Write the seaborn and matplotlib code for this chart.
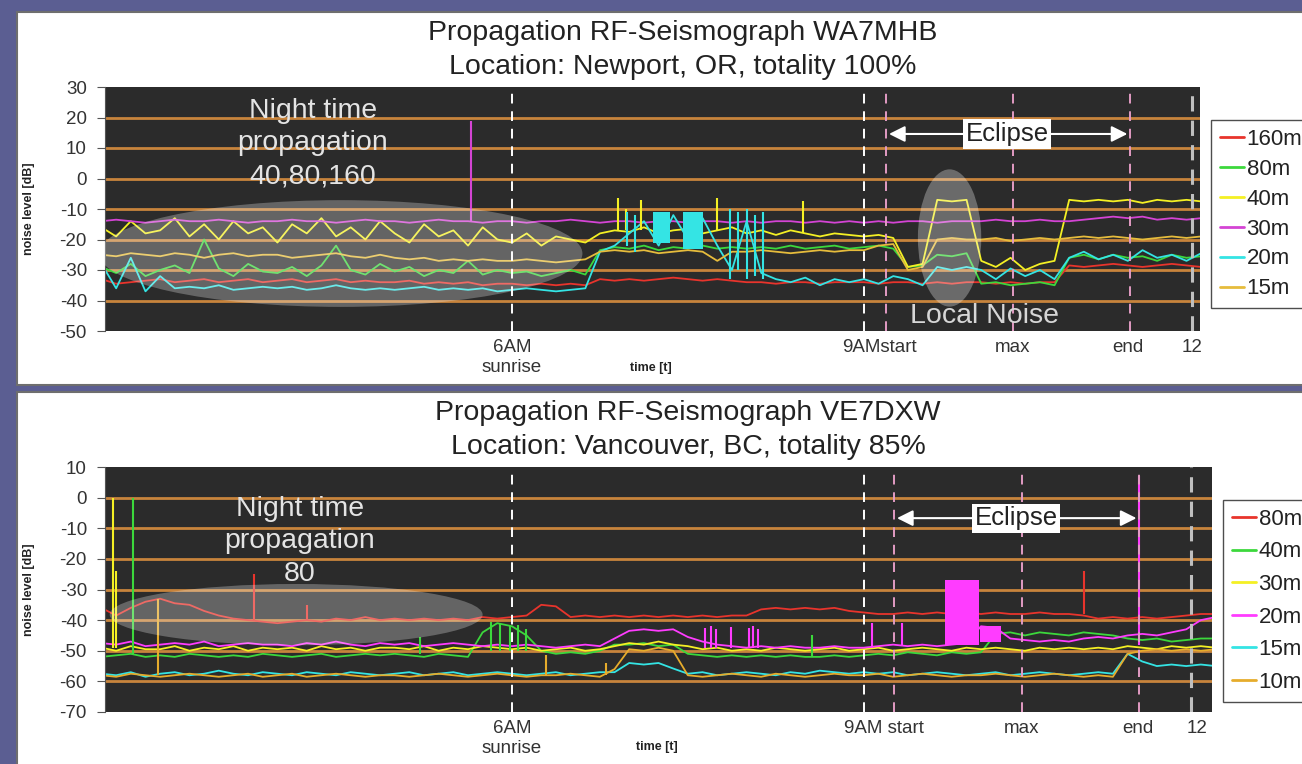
import numpy as np
import pandas as pd
import seaborn as sns
import matplotlib.pyplot as plt
from matplotlib.patches import Ellipse, Rectangle
from matplotlib.lines import Line2D

sns.set_style("white")
plt.rcParams['font.family'] = ['Liberation Sans', 'DejaVu Sans']
plt.rcParams['axes.unicode_minus'] = False

# sample times in hours (one reading every 7.5 min)
t = np.arange(2.5, 12.001, 0.125)

# ---------------- top station WA7MHB (dB) ----------------
top_bands = ['160m', '80m', '40m', '30m', '20m', '15m']
top_colors = ['#e8342c', '#3cd83c', '#f4f024', '#d444d4', '#34e4e4', '#e6bc3c']

top_160m = [-33, -34.5, -34, -33.5,
            -33, -34, -33.5, -33, -34, -33.5, -33, -34,
            -33.5, -33, -34, -33.5, -33, -34, -33.5, -34,
            -34, -33.5, -34.5, -34, -34.5, -34, -35, -34.5,
            -34.5, -35, -34.5, -35, -34.5, -35, -33, -33.5,
            -33, -33.5, -33, -32.5, -33, -33.5, -33, -33.5,
            -34, -34, -34.5, -34, -34, -34.5, -34, -34,
            -34, -34.5, -34, -34, -34.5, -34, -34.5, -34,
            -34, -34.5, -34, -34.5, -34, -34, -28.5, -29,
            -28.5, -28, -28.5, -29, -28.5, -28, -28.5, -29,
            -28.5]
top_80m = [-29, -31, -28, -32,
           -30, -28.5, -31, -20, -29.5, -32, -28, -30.5,
           -31, -29, -32, -28.5, -22, -30, -31.5, -28,
           -30.5, -29, -32, -30, -31, -27, -31.5, -30,
           -31, -30.5, -32, -31, -30, -31.5, -23.5, -22.5,
           -23, -22, -23.5, -22.5, -23, -22, -23, -22.5,
           -23, -22.5, -23, -22, -23, -22.5, -22, -23,
           -22.5, -22, -23, -29, -28.5, -25, -25.5, -24.5,
           -34.5, -34, -35, -34.5, -34, -35, -26, -25,
           -26.5, -25, -26, -25.5, -27, -25, -26, -25.5,
           -25]
top_40m = [-16, -19, -14, -18,
           -17, -13, -19, -15, -20, -14, -18, -16,
           -21, -15, -18, -13, -19, -16, -20, -14,
           -18, -21, -15, -19, -17, -22, -16, -20,
           -21, -18, -22, -19, -20, -21, -18, -17,
           -17.5, -16, -18, -17, -16.5, -18, -17, -16,
           -18, -17, -18.5, -17, -18, -19, -18, -18.5,
           -19, -18.5, -19.5, -29, -28, -7, -7.5, -7,
           -27, -29, -26, -30, -28, -27, -7, -7.5,
           -7, -7.5, -7, -8, -7, -7.5, -7, -7.5,
           -7]
top_30m = [-14, -13.5, -14, -14.5,
           -14, -13.5, -14, -14, -13.5, -14, -14.5, -14,
           -14, -13.5, -14, -14, -14.5, -14, -13.5, -14,
           -14, -14.5, -14, -13.5, -14, -14, -14.5, -14,
           -14, -14.5, -14, -14, -13.5, -14, -14.5, -14,
           -14, -14.5, -14, -14, -14.5, -14, -14, -14.5,
           -14, -14.5, -14, -14, -14.5, -14, -14.5, -14,
           -14.5, -14, -14.5, -14, -14, -14.5, -14, -14,
           -14, -13.5, -14, -14, -13.5, -14, -14, -13.5,
           -13, -12.5, -13, -12.5, -13.5, -13, -13.5, -13,
           -13]
top_20m = [-28, -36, -26, -37,
           -32, -36, -35.5, -36, -35, -36.5, -36, -35.5,
           -36, -35.5, -36.5, -36, -35, -36, -36.5, -36,
           -36.5, -36, -35.5, -36.5, -36, -36.5, -36, -37,
           -36.5, -36, -36.5, -37, -36.5, -36, -24, -22,
           -18, -14, -22, -12, -20, -13, -22, -30,
           -14, -31, -33, -34, -32.5, -35, -33, -34,
           -33, -34.5, -32, -33, -35, -29, -30, -29,
           -30, -33, -29.5, -32, -30, -33, -26, -24,
           -26.5, -25, -27, -23.5, -26, -25, -27, -24.5,
           -25]
top_15m = [-25, -25.5, -24.5, -25,
           -25.5, -24.5, -25, -26, -25, -24.5, -25.5, -25,
           -25, -26, -25.5, -25, -24.5, -25.5, -26, -25,
           -26, -26.5, -26, -27, -26.5, -27, -26.5, -27,
           -27, -26.5, -27, -27.5, -27, -26.5, -24, -23.5,
           -24, -23.5, -24.5, -24, -23.5, -24, -27, -24,
           -24, -23.5, -24, -24.5, -24, -23.5, -24, -23.5,
           -23.5, -22, -21.5, -30, -29, -20, -19.5, -20,
           -20, -19.5, -20.5, -20, -19.5, -20, -19.5, -19,
           -19.5, -19, -19.5, -20, -19.5, -19, -19.5, -19,
           -19.5]

# short spikes: band, time, from, to
top_spikes = [('30m', 5.65, -14, 19),
              ('40m', 6.9, -17, -6.5), ('40m', 6.97, -17, -10), ('40m', 7.1, -17, -7),
              ('40m', 7.75, -17, -6.5), ('40m', 8.48, -18, -7.5),
              ('20m', 6.98, -22, -11), ('20m', 7.05, -24, -12), ('20m', 7.86, -33, -10),
              ('20m', 7.93, -30, -11), ('20m', 8.0, -33, -10), ('20m', 8.07, -32, -12),
              ('20m', 8.14, -33, -11)]
# dense bursts: band, start, end, low, high
top_bursts = [('20m', 7.2, 7.35, -21, -11), ('20m', 7.46, 7.63, -23, -11)]

# ---------------- bottom station VE7DXW (dB) ----------------
bot_bands = ['80m', '40m', '30m', '20m', '15m', '10m']
bot_colors = ['#e8342c', '#3cd83c', '#f4f024', '#ff3cff', '#34e4e4', '#e6ac2c']

bot_80m = [-36, -38.5, -36, -34,
           -33, -34.5, -35, -37, -38.5, -39.5, -40, -40.5,
           -41, -40.5, -40, -40.5, -39.5, -40, -39, -40,
           -39.5, -40, -39.5, -40, -39.5, -40, -39, -39.5,
           -39, -38.5, -35, -35.5, -39, -38.5, -39, -38.5,
           -39, -38.5, -39, -38.5, -39, -38.5, -39, -38.5,
           -38.5, -36.5, -36, -36.5, -36, -36.5, -36, -37,
           -37.5, -38, -38, -37.5, -38, -37.5, -38, -37.5,
           -38, -37.5, -38, -38, -37.5, -38, -38, -38.5,
           -39.5, -39, -39.5, -39, -39.5, -39, -38.5, -38,
           -38]
bot_40m = [-52, -51.5, -51, -52,
           -51.5, -52, -51, -51.5, -52, -51.5, -52, -51,
           -51.5, -52, -51.5, -51, -52, -51.5, -51, -51.5,
           -51, -51.5, -52, -51, -51.5, -52, -44, -41,
           -42, -45, -50, -51, -50.5, -51, -50, -48,
           -48, -47.5, -48.5, -48, -51, -51.5, -52, -51.5,
           -52, -51.5, -52, -51.5, -52, -52, -51.5, -52,
           -51.5, -51, -51.5, -50.5, -51, -51.5, -50.5, -51,
           -50.5, -44.5, -44, -45, -44, -44.5, -45, -44,
           -44.5, -45, -46, -46.5, -46, -47, -46.5, -46,
           -46]
bot_30m = [-49, -50, -48.5, -49.5,
           -49.5, -48.5, -50, -49, -49.5, -48.5, -50, -49,
           -49.5, -49, -50, -48.5, -49.5, -49, -50, -49,
           -49, -49.5, -48.5, -50, -49, -49.5, -48.5, -49,
           -49.5, -49, -50, -49.5, -49, -50, -49.5, -48.5,
           -47.5, -48, -47, -48, -48.5, -49.5, -49, -50,
           -49.5, -50, -49, -49.5, -50, -49.5, -49, -50,
           -49.5, -49, -50, -49.5, -49, -49.5, -50, -49,
           -49.5, -49, -49.5, -50, -49, -49.5, -49, -49.5,
           -49, -49.5, -48.5, -49, -49.5, -48.5, -49, -48.5,
           -49]
bot_20m = [-47.5, -48, -47, -48.5,
           -48, -47.5, -48, -47, -48.5, -48, -47.5, -48,
           -48, -48.5, -47.5, -48, -47, -48, -48.5, -47.5,
           -48, -47.5, -48.5, -48, -47.5, -48, -48.5, -48,
           -48.5, -48, -48.5, -49, -48.5, -48, -48.5, -46,
           -43.5, -43, -43.5, -43, -45.5, -47, -48, -48.5,
           -49, -48.5, -49, -48.5, -49, -49, -48.5, -49,
           -49, -48.5, -48, -48.5, -48, -48.5, -48, -47.5,
           -42, -42.5, -46, -46.5, -47, -46.5, -47, -46,
           -45.5, -46, -45, -44.5, -45, -44, -43, -40,
           -39]
bot_15m = [-57.5, -58, -57, -58.5,
           -57.5, -57, -58, -57.5, -56.5, -57.5, -58, -57,
           -57.5, -58, -57, -57.5, -58, -57, -57.5, -58,
           -57.5, -57, -58, -57.5, -57, -58, -57.5, -57,
           -57.5, -58, -57.5, -57, -58, -57.5, -57, -57,
           -54, -54.5, -54, -55.8, -57.5, -57, -58, -57.5,
           -57, -57.5, -58, -57, -57.5, -56.5, -57, -57.5,
           -57, -57.5, -57, -58, -57.5, -57, -57.5, -58,
           -57.5, -57, -58, -57.5, -57, -57.5, -58, -57.5,
           -57, -57.5, -51, -53.5, -55, -54.5, -55, -54.5,
           -55]
bot_10m = [-58, -58.5, -57.5, -58,
           -58.5, -58, -57.5, -58, -58.5, -58, -57.5, -58.5,
           -58, -57.5, -58.5, -58, -57.5, -58, -58.5, -58,
           -58, -58.5, -58, -57.5, -58, -58.5, -58, -57.5,
           -58, -58.5, -58, -58, -57.5, -58, -58.5, -56,
           -49.5, -50, -49, -50, -58, -58.5, -58, -57.5,
           -58, -58.5, -57.5, -58, -58.5, -58, -57.5, -58,
           -58, -57.5, -58.5, -58, -57.5, -58, -58.5, -58,
           -58, -57.5, -58, -58.5, -58, -57.5, -58, -58.5,
           -58, -58.5, -51, -50, -49.5, -50, -49.5, -50,
           -49.5]

bot_spikes = [('30m', 2.6, -49, 0), ('30m', 2.625, -49, -24),
              ('40m', 2.77, -51, 0), ('10m', 2.98, -58, -33),
              ('80m', 3.8, -40, -25), ('80m', 4.25, -40, -35), ('80m', 10.88, -38, -24),
              ('40m', 5.22, -51, -45.6), ('40m', 5.82, -50, -40.5), ('40m', 5.9, -50, -41),
              ('40m', 5.98, -50, -42), ('40m', 6.05, -50, -41.5), ('40m', 6.12, -50, -43),
              ('40m', 8.56, -52, -45),
              ('10m', 6.29, -58, -51.5), ('10m', 6.8, -58, -54),
              ('20m', 7.65, -49, -42.5), ('20m', 7.7, -49, -42), ('20m', 7.74, -49, -43),
              ('20m', 7.87, -49, -42.3), ('20m', 8.02, -49, -42.5), ('20m', 8.06, -49, -42),
              ('20m', 8.1, -49, -43), ('20m', 9.07, -49, -41), ('20m', 9.33, -48, -41),
              ('20m', 11.35, -48, 7)]
bot_bursts = [('20m', 9.69, 9.98, -48, -27), ('20m', 9.99, 10.17, -47, -42)]

W, H = 1302, 764
fig = plt.figure(figsize=(W / 100, H / 100), dpi=100, facecolor='#5b5e92')

# white slide panels (behind the axes)
fig.patches.append(Rectangle((17 / W, 1 - 385 / H), 1.1, 373 / H, transform=fig.transFigure,
                             facecolor='white', edgecolor='#6e6e6e', lw=1.5, zorder=-5))
fig.patches.append(Rectangle((17 / W, -0.02), 1.1, (764 - 392) / H + 0.02, transform=fig.transFigure,
                             facecolor='white', edgecolor='#6e6e6e', lw=1.5, zorder=-5))


def draw_panel(ax, vals, bands, colors, spikes, bursts, ylim, xlim):
    pal = dict(zip(bands, colors))
    df = pd.DataFrame({'t': np.tile(t, len(bands)),
                       'dB': np.concatenate([np.array(v, float) for v in vals]),
                       'band': np.repeat(bands, len(t))})
    ax.set_facecolor('#2b2b2b')
    for y in range(ylim[0] + 10, ylim[1], 10):
        ax.axhline(y, color='#c8843c', lw=2, zorder=1)
    sns.lineplot(data=df, x='t', y='dB', hue='band', hue_order=bands, palette=pal,
                 estimator=None, sort=False, linewidth=1.3, legend=False, ax=ax, zorder=2)
    for b, x, lo, hi in spikes:
        ax.vlines(x, lo, hi, color=pal[b], lw=1.5, zorder=2)
    for b, x0, x1, lo, hi in bursts:
        ax.fill_between([x0, x1], lo, hi, color=pal[b], lw=0, zorder=2)
    ax.set_xlim(*xlim)
    ax.set_ylim(*ylim)
    ax.set_yticks(range(ylim[0], ylim[1] + 1, 10))
    for s in ['top', 'right', 'bottom']:
        ax.spines[s].set_visible(False)
    ax.spines['left'].set_color('#555555')
    ax.tick_params(axis='y', left=True, length=6, color='#555555', labelsize=13.5,
                   labelcolor='#333333', pad=7)
    ax.tick_params(axis='x', length=0, labelsize=13.5, labelcolor='#333333', pad=6)
    return pal


def add_legend(pal, x, y, spacing):
    handles = [Line2D([], [], color=c, lw=2) for c in pal.values()]
    leg = fig.legend(handles, list(pal.keys()), loc='upper left', bbox_to_anchor=(x / W, 1 - y / H),
                     fontsize=16, frameon=True, fancybox=False, edgecolor='#222222',
                     handlelength=1.1, handletextpad=0.1, labelspacing=spacing, borderpad=0.4,
                     borderaxespad=0)
    leg.get_frame().set_linewidth(1.0)
    for txt in leg.get_texts():
        txt.set_color('#222222')


def vlines_dashed(ax, white, grey, pink):
    for x in white:
        ax.axvline(x, color='white', ls=(0, (5, 4)), lw=1.4, zorder=4)
    for x in grey:
        ax.axvline(x, color='#bfbfbf', ls=(0, (5, 3)), lw=2.2, zorder=4)
    for x in pink:
        ax.axvline(x, color='#e39cc4', ls=(0, (5, 4)), lw=1.4, zorder=4)


# ---------------- top panel ----------------
ax1 = fig.add_axes([105 / W, 1 - 331 / H, 1095 / W, 244 / H])
pal1 = draw_panel(ax1, [top_160m, top_80m, top_40m, top_30m, top_20m, top_15m],
                  top_bands, top_colors, top_spikes, top_bursts, (-50, 30), (2.53, 11.865))
ax1.set_xticks([6.0, 9.13, 10.27, 11.25, 11.8])
ax1.set_xticklabels(['6AM\nsunrise', '9AMstart', 'max', 'end', '12'])
vlines_dashed(ax1, [6.0, 9.0], [11.8], [9.19, 10.27, 11.27])
ax1.add_patch(Ellipse((4.54, -24.6), 4.12, 35, facecolor='white', alpha=0.27, lw=0, zorder=3))
ax1.add_patch(Ellipse((9.73, -19.5), 0.54, 45, facecolor='white', alpha=0.3, lw=0, zorder=3))
ax1.text(4.3, 11.5, 'Night time\npropagation\n40,80,160', ha='center', va='center',
         color='#e4e4e4', fontsize=20.5, linespacing=1.33, zorder=5)
ax1.text(10.03, -45.1, 'Local Noise', ha='center', va='center', color='#d6d6d6',
         fontsize=20.5, zorder=5)
ax1.annotate('', xy=(9.19, 14.6), xytext=(11.27, 14.6),
             arrowprops=dict(arrowstyle='<|-|>', color='white', lw=1.5, mutation_scale=24), zorder=5)
ax1.text(10.22, 14.6, 'Eclipse', ha='center', va='center', color='#222222', fontsize=18.5, zorder=6,
         bbox=dict(boxstyle='square,pad=0.1', facecolor='white', edgecolor='none'))
ax1.set_xlabel('time [t]', fontsize=9, fontweight='bold', color='#222222')
ax1.xaxis.set_label_coords((651 - 105) / 1095, -0.127)
ax1.set_ylabel('noise level [dB]', fontsize=9, fontweight='bold', color='#222222')
ax1.yaxis.set_label_coords(-0.064, 0.5)
add_legend(pal1, 1211, 120, 0.4)
fig.text(683 / W, 1 - 33 / H, 'Propagation RF-Seismograph WA7MHB', ha='center', va='center',
         fontsize=20.5, color='#222222')
fig.text(683 / W, 1 - 67 / H, 'Location: Newport, OR, totality 100%', ha='center', va='center',
         fontsize=20.5, color='#222222')

# ---------------- bottom panel ----------------
ax2 = fig.add_axes([105 / W, 1 - 712 / H, 1107 / W, 245 / H])
pal2 = draw_panel(ax2, [bot_80m, bot_40m, bot_30m, bot_20m, bot_15m, bot_10m],
                  bot_bands, bot_colors, bot_spikes, bot_bursts, (-70, 10), (2.53, 11.97))
ax2.set_xticks([6.0, 9.17, 10.35, 11.34, 11.84])
ax2.set_xticklabels(['6AM\nsunrise', '9AM start', 'max', 'end', '12'])
vlines_dashed(ax2, [6.0, 9.0], [11.79], [9.26, 10.35, 11.35])
ax2.add_patch(Ellipse((4.16, -38.2), 3.18, 20, facecolor='white', alpha=0.27, lw=0, zorder=3))
ax2.text(4.19, -14.2, 'Night time\npropagation\n80', ha='center', va='center',
         color='#e4e4e4', fontsize=20.5, linespacing=1.33, zorder=5)
ax2.annotate('', xy=(9.26, -6.7), xytext=(11.35, -6.7),
             arrowprops=dict(arrowstyle='<|-|>', color='white', lw=1.5, mutation_scale=24), zorder=5)
ax2.text(10.3, -6.7, 'Eclipse', ha='center', va='center', color='#222222', fontsize=18.5, zorder=6,
         bbox=dict(boxstyle='square,pad=0.1', facecolor='white', edgecolor='none'))
ax2.set_xlabel('time [t]', fontsize=9, fontweight='bold', color='#222222')
ax2.xaxis.set_label_coords((657 - 105) / 1107, -0.118)
ax2.set_ylabel('noise level [dB]', fontsize=9, fontweight='bold', color='#222222')
ax2.yaxis.set_label_coords(-0.063, 0.5)
add_legend(pal2, 1223, 500, 0.52)
fig.text(688 / W, 1 - 413 / H, 'Propagation RF-Seismograph VE7DXW', ha='center', va='center',
         fontsize=20.5, color='#222222')
fig.text(688 / W, 1 - 447 / H, 'Location: Vancouver, BC, totality 85%', ha='center', va='center',
         fontsize=20.5, color='#222222')

fig.savefig('out.png', dpi=100, facecolor=fig.get_facecolor())
